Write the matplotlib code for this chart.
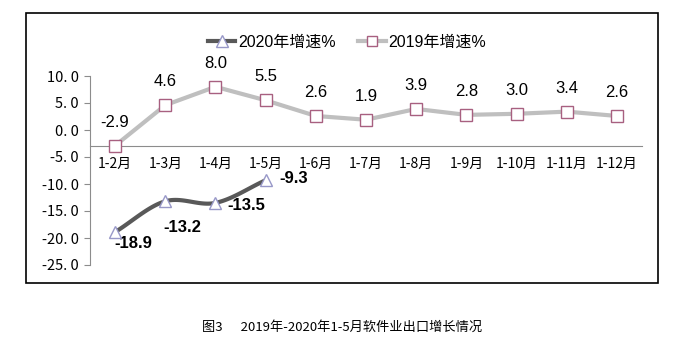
import numpy as np
import matplotlib.pyplot as plt
from matplotlib.patches import Rectangle
from matplotlib.lines import Line2D

# categories and growth rates (%)
months = ['1-2月', '1-3月', '1-4月', '1-5月', '1-6月', '1-7月',
          '1-8月', '1-9月', '1-10月', '1-11月', '1-12月']
growth_2019 = [-2.9, 4.6, 8.0, 5.5, 2.6, 1.9, 3.9, 2.8, 3.0, 3.4, 2.6]
growth_2020 = [-18.9, -13.2, -13.5, -9.3]
y_ticks = [10, 5, 0, -5, -10, -15, -20, -25]
caption = '图3      2019年-2020年1-5月软件业出口增长情况'

# label offsets for the 2020 series (points)
offs_2020 = [(13, -8), (12, -19), (22, -2), (20, 1)]

cjk = ['Noto Sans CJK SC', 'DejaVu Sans']
latin = ['Liberation Sans', 'Noto Sans CJK SC']
plt.rcParams['font.family'] = cjk


def smooth(xs, ys, n=30):
    # Catmull-Rom curve through the given points
    p = np.column_stack([xs, ys]).astype(float)
    p = np.vstack([p[0] - (p[1] - p[0]), p, p[-1] + (p[-1] - p[-2])])
    out = []
    t = np.linspace(0, 1, n)[:, None]
    for i in range(1, len(p) - 2):
        p0, p1, p2, p3 = p[i - 1], p[i], p[i + 1], p[i + 2]
        seg = 0.5 * ((2 * p1) + (-p0 + p2) * t + (2 * p0 - 5 * p1 + 4 * p2 - p3) * t ** 2
                     + (-p0 + 3 * p1 - 3 * p2 + p3) * t ** 3)
        out.append(seg)
    out = np.vstack(out)
    return out[:, 0], out[:, 1]


fig = plt.figure(figsize=(6.86, 3.46), dpi=100)
fig.patches.append(Rectangle((26 / 686, 1 - 283 / 346), 632 / 686, 270 / 346,
                             transform=fig.transFigure, fill=False,
                             edgecolor='black', linewidth=1.2))

ax = fig.add_axes([90 / 686, 1 - 265 / 346, 552 / 686, 189 / 346])
x = np.arange(len(months))

c19 = '#bfbfbf'
c20 = '#595959'
ax.plot(x, growth_2019, color=c19, lw=3, marker='s', ms=8.5,
        mfc='white', mec='#a86080', mew=1.0, zorder=3)
sx, sy = smooth(x[:len(growth_2020)], growth_2020)
ax.plot(sx, sy, color=c20, lw=3, solid_capstyle='round', zorder=3)
ax.plot(x[:len(growth_2020)], growth_2020, ls='none', marker='^', ms=8.5,
        mfc='white', mec='#9898c8', mew=1.0, zorder=4)

for xi, v in zip(x, growth_2019):
    ax.annotate(f'{v:.1f}', (xi, v), xytext=(0, 17), textcoords='offset points',
                ha='center', va='center', fontsize=12, family=latin)
for xi, v, (dx, dy) in zip(x, growth_2020, offs_2020):
    ax.annotate(f'{v:.1f}', (xi, v), xytext=(dx, dy), textcoords='offset points',
                ha='center', va='center', fontsize=12, fontweight='bold', family=latin)

for s in ['top', 'right']:
    ax.spines[s].set_visible(False)
ax.spines['bottom'].set_position(('data', -2.9))
ax.spines['bottom'].set_color('#8c8c8c')
ax.spines['left'].set_color('#8c8c8c')

ax.set_xlim(-0.5, len(months) - 0.5)
ax.set_ylim(-25, 10)
ax.set_yticks(y_ticks)
ax.set_yticklabels([f'{t:.1f}'.replace('.', '. ') for t in y_ticks], fontsize=10.5)
ax.set_xticks(x)
ax.set_xticklabels(months, fontsize=10)
ax.tick_params(axis='x', length=0, pad=8)
ax.tick_params(axis='y', length=4, color='#8c8c8c', pad=4)

handles = [
    Line2D([], [], color=c20, lw=3, marker='^', ms=8, mfc='white', mec='#9898c8'),
    Line2D([], [], color=c19, lw=3, marker='s', ms=7, mfc='white', mec='#a86080'),
]
ax.legend(handles, ['2020年增速%', '2019年增速%'], ncol=2, frameon=False,
          loc='center', bbox_to_anchor=(0.466, 1.18), handlelength=1.7,
          handletextpad=0.2, columnspacing=1.4, prop={'family': latin, 'size': 11.5})

fig.text(342 / 686, 1 - 327 / 346, caption, ha='center', va='center', fontsize=9.5)

fig.savefig('out.png', dpi=100)
